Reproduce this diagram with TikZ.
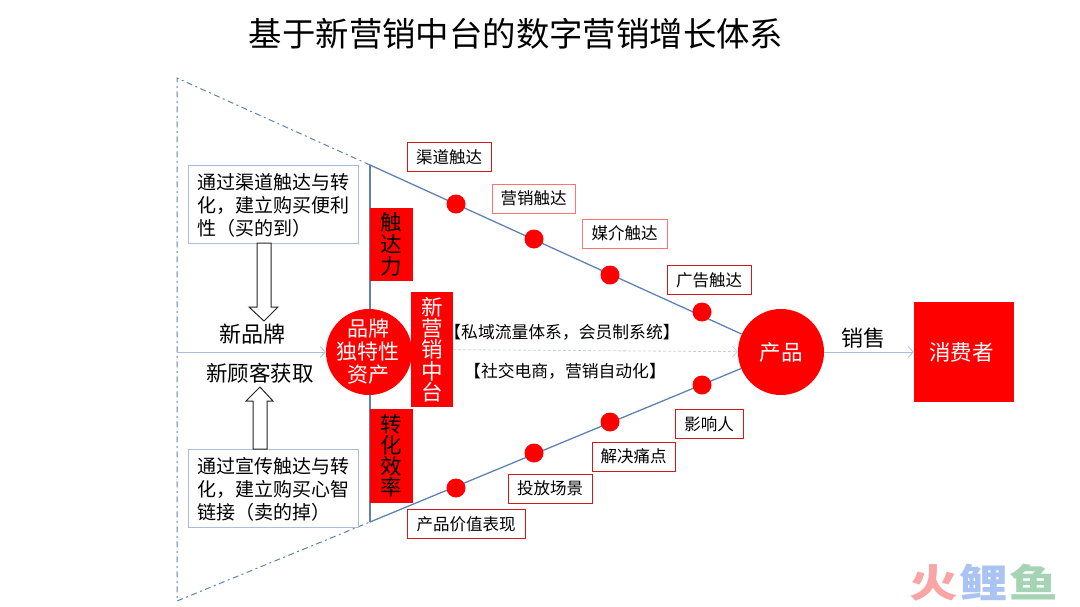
\documentclass[tikz,border=0pt]{standalone}
\usepackage{fontspec}
\setmainfont{Noto Sans CJK SC}
\usetikzlibrary{arrows.meta}
\definecolor{funnelblue}{HTML}{5F82B3}
\definecolor{paleblue}{HTML}{A9BEDC}
\definecolor{mainred}{HTML}{FF0000}
\definecolor{logopink}{HTML}{F9A5A5}
\definecolor{logoblue}{HTML}{A9C3F2}
\definecolor{logogreen}{HTML}{A4D4B4}
\tikzset{
	x=1pt, y=-1pt,
	redblock/.style={fill=mainred, inner sep=0pt, align=center},
	touchbox/.style={draw=mainred!80!black!90, fill=white, line width=1pt, inner sep=0pt, minimum height=29pt, font=\fontsize{16.5}{20}\selectfont},
	notebox/.style={draw=paleblue, fill=white, line width=1pt, inner sep=0pt, minimum width=170pt, minimum height=78pt},
	notetext/.style={inner sep=0pt, align=left, font=\fontsize{19}{23.3}\selectfont},
	dot/.style={circle, fill=mainred, inner sep=0pt, minimum size=19pt},
	bigcircle/.style={circle, fill=mainred, text=white, inner sep=0pt, minimum size=86pt},
	flow/.style={draw=paleblue, line width=0.8pt, -{Straight Barb[length=5pt,width=11pt]}},
	outline/.style={draw=funnelblue, line width=1pt, dash pattern=on 6pt off 3.5pt on 2pt off 3.5pt},
	hollow/.style={draw=black!85, fill=white, line width=1pt},
	logochar/.style={inner sep=0pt, xscale=1.1, yscale=0.88, transform shape, font=\fontsize{44}{46}\selectfont\bfseries},
}
\begin{document}
\begin{tikzpicture}
	\useasboundingbox (0,0) rectangle (1080,606);
	\node (title) at (516,34) {\fontsize{33.4}{36}\selectfont 基于新营销中台的数字营销增长体系};
	\coordinate (farT) at (177,78);
	\coordinate (farB) at (177,601);
	\coordinate (funnelT) at (370,165);
	\coordinate (funnelB) at (370,522);
	\coordinate (axisL) at (177,352);
	\draw [outline] (funnelT) -- (farT) -- (farB) -- (funnelB);
	\node [bigcircle, font=\fontsize{21.5}{23.3}\selectfont] (prod) at (781,352) {产品};
	\draw [draw=funnelblue, line width=1.3pt] (funnelT) -- (funnelB);
	\draw [draw=funnelblue, line width=1.3pt] (funnelT) -- (prod);
	\draw [draw=funnelblue, line width=1.3pt] (funnelB) -- (prod);
	\node [dot] (t1) at (456,204) {};
	\node [dot] (t2) at (534,239) {};
	\node [dot] (t3) at (610,275) {};
	\node [dot] (t4) at (702,312) {};
	\node [dot] (b1) at (456,488) {};
	\node [dot] (b2) at (534,453) {};
	\node [dot] (b3) at (610,422) {};
	\node [dot] (b4) at (702,385) {};
	\node [touchbox, minimum width=84pt] (qudao) at (449,157) {渠道触达};
	\node [touchbox, minimum width=83pt, draw=mainred!55] (yingxiao) at (533.5,198.5) {营销触达};
	\node [touchbox, minimum width=85pt, draw=mainred!55] (meijie) at (624.5,233.5) {媒介触达};
	\node [touchbox, minimum width=84pt] (guanggao) at (709,280) {广告触达};
	\node [touchbox, minimum width=68pt] (yingxiang) at (709,424) {影响人};
	\node [touchbox, minimum width=83pt] (tongdian) at (633.5,456.5) {解决痛点};
	\node [touchbox, minimum width=84pt] (changjing) at (550,488.5) {投放场景};
	\node [touchbox, minimum width=118pt] (jiazhi) at (466,524) {产品价值表现};
	\node [notebox] (noteT) at (273,204) {};
	\node [notebox] (noteB) at (273,488) {};
	\node [notetext] (noteTtext) at (273,205.5) {通过渠道触达与转\\化，建立购买便利\\性（买的到）};
	\node [notetext] (noteBtext) at (273,489.5) {通过宣传触达与转\\化，建立购买心智\\链接（卖的掉）};
	\draw [hollow] (257,243) -- (271,243) -- (271,307) -- (278,307) -- (264,321) -- (249,307) -- (257,307) -- cycle;
	\draw [hollow] (253,449) -- (267,449) -- (267,401) -- (273,401) -- (260,387) -- (246,401) -- (253,401) -- cycle;
	\node (newbrand) at (252,334) {\fontsize{22}{24}\selectfont 新品牌};
	\node (newcust) at (260,373) {\fontsize{21.5}{24}\selectfont 新顾客获取};
	\node [redblock, minimum width=43pt, minimum height=73pt, font=\fontsize{21.5}{22}\selectfont] (chuda) at (391.5,244.5) {触\\达\\力};
	\node [redblock, minimum width=43pt, minimum height=94pt, font=\fontsize{21.5}{21}\selectfont] (zhuanhua) at (391.5,456) {转\\化\\效\\率};
	\node [bigcircle] (brand) at (369,352) {};
	\node [inner sep=0pt, text=white, align=center, font=\fontsize{21}{23}\selectfont] (brandtext) at (368,352) {品牌\\独特性\\资产};
	\node [redblock, text=white, minimum width=42pt, minimum height=115pt, font=\fontsize{21.5}{21.3}\selectfont] (zhongtai) at (432,349.5) {新\\营\\销\\中\\台};
	\node (siyu) at (562,332) {\fontsize{16.8}{20}\selectfont 【私域流量体系，会员制系统】};
	\node (shejiao) at (565,371) {\fontsize{16.8}{20}\selectfont 【社交电商，营销自动化】};
	\node [redblock, text=white, minimum width=100pt, minimum height=100pt, font=\fontsize{21.5}{24}\selectfont] (consumer) at (964,352) {\hspace{-5pt}消费者};
	\node (sale) at (863,338) {\fontsize{22}{24}\selectfont 销售};
	\draw [flow] (axisL) -- (brand);
	\draw [flow, densely dashed, draw=paleblue!70] (zhongtai) -- (prod);
	\draw [flow] (prod) -- (consumer);
	\node [logochar, text=logopink] (logoA) at (934,582.5) {火};
	\node [logochar, text=logoblue] (logoB) at (983.5,582.5) {鲤};
	\node [logochar, text=logogreen] (logoC) at (1034,582.5) {鱼};
\end{tikzpicture}
\end{document}
